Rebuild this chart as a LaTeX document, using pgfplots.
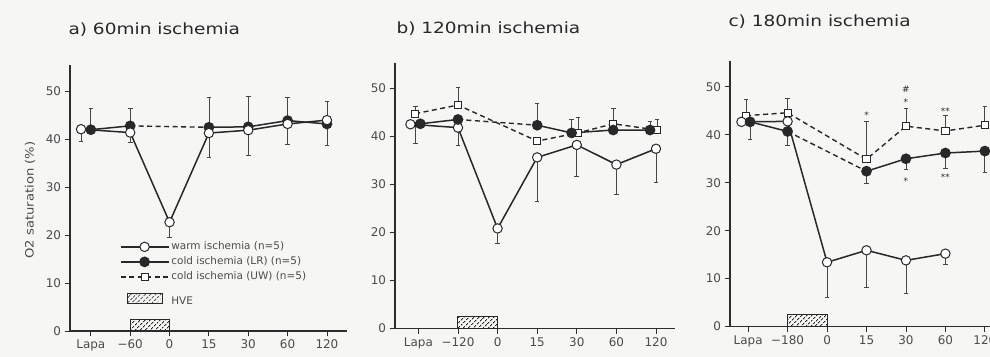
\documentclass[border=0pt]{standalone}
\usepackage{fontspec}
\setmainfont{DejaVu Sans}
\newfontfamily\titlefont[FakeStretch=1.2]{DejaVu Sans}
\newfontfamily\labfont[FakeStretch=1.15]{DejaVu Sans}
\newcommand\tickfont{\fontsize{12}{14}\selectfont}
\newcommand\legfont{\fontsize{10.5}{12}\selectfont}
\newcommand\yfont{\labfont\fontsize{11.5}{13}\selectfont}
\newcommand\starfont{\fontsize{9}{9}\selectfont}
\newcommand\ttlfont{\titlefont\fontsize{15.5}{18}\selectfont}
\usepackage{pgfplots}
\pgfplotsset{compat=1.18}
\usetikzlibrary{patterns,patterns.meta}
\definecolor{linec}{RGB}{40,40,40}
\definecolor{axisc}{RGB}{45,45,45}
\definecolor{textc}{RGB}{75,75,75}
\definecolor{errc}{RGB}{70,70,70}
\definecolor{bgc}{RGB}{246,246,244}
\pgfplotsset{
 panel/.style={scale only axis, anchor=south west, axis lines=left,
   axis line style={-, line width=1.2bp, draw=axisc}, ymin=0,
   xtick={0,...,6}, ytick={0,10,...,50}, tick align=outside,
   major tick length=5.5bp, tick style={line width=0.8bp, draw=axisc},
   every tick label/.append style={font=\tickfont, text=textc},
   /pgf/number format/assume math mode=true, clip=false},
 warm/.style={line width=1.5bp, draw=linec, mark=*, mark size=4.7bp,
   mark options={fill=white, draw=linec, line width=1bp, solid}},
 lr/.style={line width=1.5bp, draw=linec, mark=*, mark size=4.6bp,
   mark options={fill=linec, draw=linec, solid}},
 uw/.style={line width=1.4bp, draw=linec, dash pattern=on 5bp off 3.5bp,
   mark=square*, mark size=3.6bp, mark options={fill=white, draw=linec, line width=0.9bp, solid}},
 gap/.style={line width=1.4bp, draw=linec, dash pattern=on 5bp off 3.5bp},
 ebar/.style={forget plot, only marks, mark=none, error bars/.cd, y dir=#1, y explicit,
   error bar style={line width=0.75bp, draw=errc},
   error mark options={rotate=90, mark size=2.3bp, line width=0.75bp, draw=errc}},
 hve/.style={forget plot, draw=linec, line width=1bp,
   pattern={Lines[angle=45,distance=3.6bp,line width=1.1bp]}, pattern color=linec},
}
\begin{document}
\begin{tikzpicture}
\path[use as bounding box] (0,0) rectangle (990bp,357bp);
\clip (0,0) rectangle (990bp,357bp);
\fill[bgc] (0,0) rectangle (990bp,357bp);

% ---------- panel a ----------
\begin{axis}[panel, at={(70bp,26bp)}, width=277bp, height=266bp,
  xmin=-0.53, xmax=6.51, ymax=55.5,
  xticklabels={Lapa,−60,0,15,30,60,120},
  legend style={at={(axis cs:0.737,18.7)}, anchor=north west, draw=none, fill=none,
    inner sep=0pt, outer sep=0pt, font=\legfont, text=textc,
    row sep=4bp, nodes={inner ysep=0pt, inner xsep=2bp, text height=8bp, text depth=3bp}},
  legend cell align=left,
  legend image code/.code={\draw[mark repeat=2,mark phase=2,#1] plot coordinates {(0bp,0bp) (24bp,0bp) (48bp,0bp)};},
]
\addlegendimage{warm}
\addlegendentry{warm ischemia (n=5)}
\addlegendimage{lr}
\addlegendentry{cold ischemia (LR) (n=5)}
\addlegendimage{uw}
\addlegendentry{cold ischemia (UW) (n=5)}
\addlegendimage{legend image code/.code={\draw[draw=linec, line width=1bp, pattern={Lines[angle=45,distance=3.6bp,line width=1.1bp]}, pattern color=linec] (7bp,-12bp) rectangle (42bp,-2bp);}}
\addlegendentry{\raisebox{-10bp}{HVE}}

\addplot[hve] coordinates {(1,0) (1,2.5) (2,2.5) (2,0)} --cycle;
\addplot[ebar=plus] coordinates {(0,42.0) +- (0,4.5) (1,42.8) +- (0,3.7) (3,42.5) +- (0,6.2) (4,42.6) +- (0,6.3) (5,43.9) +- (0,4.8) (6,44.0) +- (0,4.0)};
\addplot[ebar=minus] coordinates {(-0.25,42.1) +- (0,2.6) (1,41.4) +- (0,2.0) (2,22.7) +- (0,3.2) (3,41.3) +- (0,5.0) (4,41.9) +- (0,5.2) (5,43.2) +- (0,4.2) (6,43.2) +- (0,4.4)};
\addplot[gap, forget plot] coordinates {(1,42.8) (3,42.5)};
\addplot[lr, forget plot] coordinates {(0,42.0) (1,42.8)};
\addplot[lr, forget plot] coordinates {(3,42.5) (4,42.6) (5,43.9) (6,43.2)};
\addplot[warm, forget plot] coordinates {(-0.25,42.1) (1,41.4) (2,22.7) (3,41.3) (4,41.9) (5,43.2) (6,44.0)};
\end{axis}

% ---------- panel b ----------
\begin{axis}[panel, at={(395bp,28.7bp)}, width=280bp, height=265bp,
  xmin=-0.59, xmax=6.48, ymax=55.2,
  xticklabels={Lapa,−120,0,15,30,60,120}]
\addplot[hve] coordinates {(1,0) (1,2.5) (2,2.5) (2,0)} --cycle;
\addplot[ebar=plus] coordinates {(-0.08,44.7) +- (0,1.6) (1,46.5) +- (0,3.6) (3,42.3) +- (0,4.5) (3.87,40.7) +- (0,2.8) (4.03,40.7) +- (0,3.2) (4.92,42.6) +- (0,3.2) (5.85,41.3) +- (0,1.7) (6.03,41.3) +- (0,2.3)};
\addplot[ebar=minus] coordinates {(-0.08,42.5) +- (0,3.9) (1,41.8) +- (0,3.6) (2,20.8) +- (0,3.2) (3,35.6) +- (0,9.1) (4,38.2) +- (0,6.5) (5,34.1) +- (0,6.3) (6,37.4) +- (0,6.9)};
\addplot[warm, forget plot] coordinates {(-0.2,42.5) (1,41.8) (2,20.8) (3,35.6) (4,38.2) (5,34.1) (6,37.4)};
\addplot[uw, forget plot] coordinates {(-0.08,44.7) (1,46.5) (3,39.0) (4.03,40.7) (4.92,42.6) (6.03,41.3)};
\addplot[gap, forget plot] coordinates {(1,43.5) (3,42.3)};
\addplot[lr, forget plot] coordinates {(0.05,42.6) (1,43.5)};
\addplot[lr, forget plot] coordinates {(3,42.3) (3.87,40.7) (4.92,41.3) (5.85,41.3)};
\end{axis}

% ---------- panel c ----------
\begin{axis}[panel, at={(730bp,30.5bp)}, width=294.3bp, height=265.5bp,
  xmin=-0.46, xmax=7, ymax=55.4,
  xticklabels={Lapa,−180,0,15,30,60,120}]
\addplot[hve] coordinates {(1,0) (1,2.5) (2,2.5) (2,0)} --cycle;
\addplot[ebar=plus] coordinates {(-0.05,44.0) +- (0,3.3) (1,44.6) +- (0,3.1) (3,34.9) +- (0,7.8) (4,41.8) +- (0,3.8) (5,40.8) +- (0,3.3) (6,42.0) +- (0,4.0)};
\addplot[ebar=minus] coordinates {(0.05,42.7) +- (0,3.7) (1,40.7) +- (0,2.9) (2,13.4) +- (0,7.3) (3,32.4) +- (0,2.5) (3,15.9) +- (0,7.7) (4,35.0) +- (0,2.3) (4,13.8) +- (0,6.8) (5,36.2) +- (0,3.2) (5,15.2) +- (0,2.3) (6,36.6) +- (0,4.5)};
\addplot[uw, forget plot] coordinates {(-0.05,44.0) (1,44.6) (3,34.9) (4,41.8) (5,40.8) (6,42.0)};
\addplot[warm, forget plot] coordinates {(-0.17,42.7) (1,42.8) (2,13.4) (3,15.9) (4,13.8) (5,15.2)};
\addplot[gap, forget plot] coordinates {(1,40.7) (3,32.4)};
\addplot[lr, forget plot] coordinates {(0.05,42.7) (1,40.7)};
\addplot[lr, forget plot] coordinates {(3,32.4) (4,35.0) (5,36.2) (6,36.6)};
\node[font=\starfont, text=linec] at (axis cs:3,44.2) {*};
\node[font=\starfont, text=linec] at (axis cs:4,46.8) {*};
\node[font=\starfont, text=linec] at (axis cs:4,49.4) {\#};
\node[font=\starfont, text=linec] at (axis cs:5,45.0) {**};
\node[font=\starfont, text=linec] at (axis cs:4,30.4) {*};
\node[font=\starfont, text=linec] at (axis cs:5,31.2) {**};
\end{axis}

\node[rotate=90, anchor=center, font=\yfont, text=textc] at (30bp,157bp) {O2 saturation (\%)};
\node[anchor=base west, font=\ttlfont, text=linec] at (65bp,322bp) {a) 60min ischemia};
\node[anchor=base west, font=\ttlfont, text=linec] at (393bp,323.7bp) {b) 120min ischemia};
\node[anchor=base west, font=\ttlfont, text=linec] at (725bp,330bp) {c) 180min ischemia};
\end{tikzpicture}
\end{document}
